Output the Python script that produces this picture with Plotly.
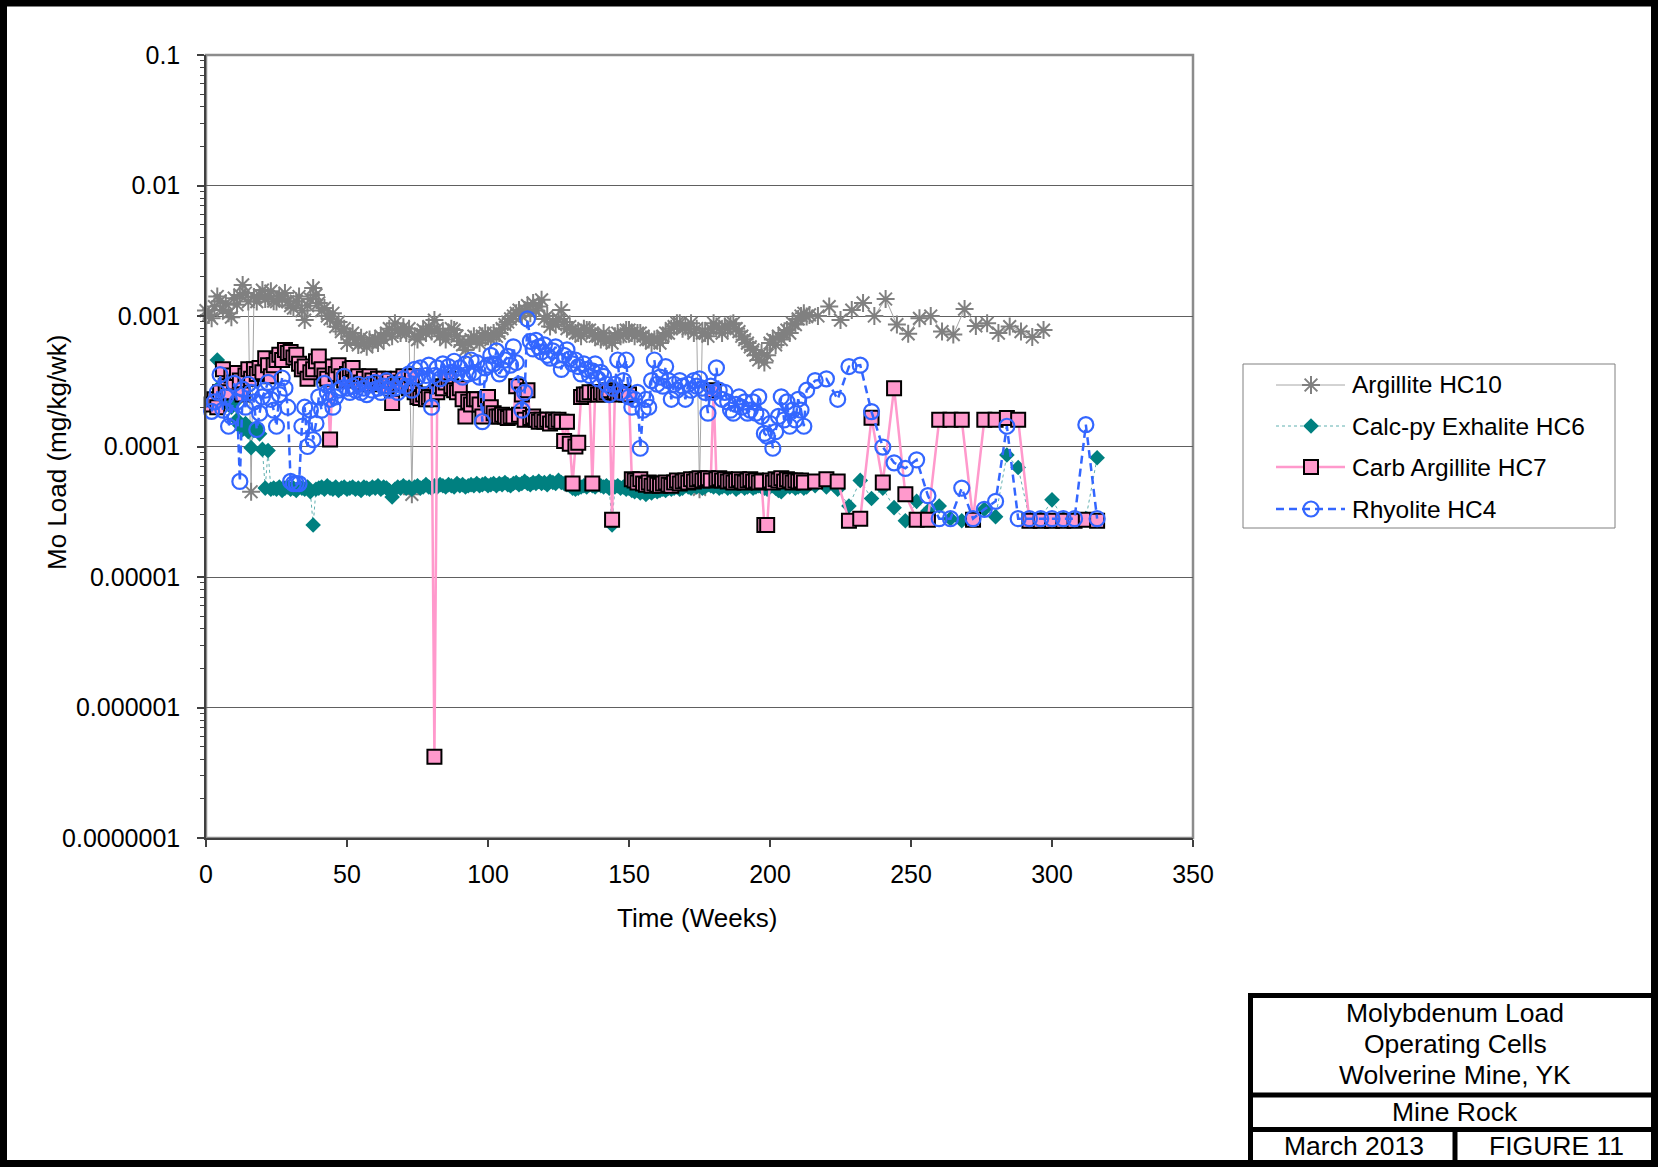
import plotly.graph_objects as go

# ---------------------------------------------------------------------------
# Molybdenum load, operating humidity cells (mg/kg/wk) by week
# ---------------------------------------------------------------------------

# Argillite HC10 - weekly to week 214, then every four weeks (values x 1e-3)
hc10_weeks = list(range(0, 215)) + [217, 221, 225, 229, 233, 237, 241, 245, 249, 253,
                                    257, 261, 265, 269, 273, 277, 281, 285, 289, 293, 297]
hc10_e3 = [
    1.10, 1.02, 0.96, 1.18, 1.41, 1.30, 1.11, 1.25, 1.05, 0.98,
    1.37, 1.22, 1.45, 1.73, 1.50, 1.29, 0.045, 1.40, 1.29, 1.45,
    1.58, 1.35, 1.41, 1.55, 1.30, 1.29, 1.42, 1.35, 1.50, 1.29,
    1.20, 1.15, 1.30, 1.41, 1.10, 0.93, 1.20, 1.35, 1.64, 1.45,
    1.26, 1.10, 1.15, 1.00, 0.95, 1.05, 0.83, 0.90, 0.76, 0.80,
    0.62, 0.70, 0.74, 0.66, 0.60, 0.68, 0.62, 0.58, 0.66, 0.62,
    0.66, 0.62, 0.70, 0.66, 0.74, 0.80, 0.70, 0.88, 0.78, 0.74,
    0.82, 0.74, 0.80, 0.043, 0.70, 0.66, 0.72, 0.78, 0.74, 0.83,
    0.76, 0.93, 0.80, 0.70, 0.74, 0.66, 0.72, 0.80, 0.78, 0.70,
    0.64, 0.60, 0.55, 0.62, 0.66, 0.70, 0.66, 0.62, 0.70, 0.74,
    0.70, 0.66, 0.74, 0.70, 0.74, 0.80, 0.86, 0.90, 0.95, 1.00,
    1.05, 1.11, 1.00, 1.11, 1.20, 1.05, 1.26, 1.10, 1.18, 1.33,
    0.95, 1.00, 0.83, 0.90, 0.86, 0.95, 1.11, 0.90, 0.80, 0.83,
    0.78, 0.74, 0.74, 0.70, 0.80, 0.78, 0.78, 0.74, 0.70, 0.70,
    0.66, 0.74, 0.66, 0.66, 0.62, 0.70, 0.74, 0.70, 0.72, 0.78,
    0.78, 0.74, 0.70, 0.74, 0.74, 0.70, 0.66, 0.66, 0.62, 0.66,
    0.66, 0.62, 0.70, 0.74, 0.74, 0.80, 0.83, 0.88, 0.88, 0.80,
    0.83, 0.80, 0.88, 0.74, 0.80, 0.047, 0.74, 0.74, 0.70, 0.80,
    0.88, 0.83, 0.80, 0.74, 0.83, 0.80, 0.86, 0.88, 0.80, 0.76,
    0.70, 0.66, 0.62, 0.58, 0.55, 0.50, 0.46, 0.52, 0.44, 0.50,
    0.62, 0.66, 0.60, 0.70, 0.66, 0.74, 0.78, 0.74, 0.88, 0.86,
    0.95, 1.00, 1.05, 0.99, 1.02,
    1.00, 1.18, 0.93, 1.11, 1.26, 1.00, 1.35, 0.86, 0.73, 0.96,
    1.00, 0.76, 0.72, 1.13, 0.84, 0.88, 0.74, 0.83, 0.76, 0.69, 0.78,
]

# Calc-py Exhalite HC6 - weekly weeks 4-213, then every four weeks (values x 1e-5)
hc6_weeks = list(range(4, 214)) + list(range(216, 317, 4))
hc6_e5 = [
    46, 29, 25, 22, 24, 20, 21.5, 16, 14.5, 13.5, 15, 13, 9.8, 13.3, 14, 12.5,
    9.5, 4.8, 9.3, 4.7,
    4.8, 4.7, 4.9, 4.6, 4.8, 4.9, 4.7, 4.8, 4.6, 4.9,
    4.8, 4.7, 4.9, 4.5, 2.5, 4.7, 4.8, 4.9, 4.7, 5.0,
    4.8, 4.7, 4.9, 4.6, 4.8, 4.9, 4.7, 4.8, 4.9, 4.7,
    4.8, 4.6, 4.9, 4.8, 4.7, 4.9, 4.8, 5.0, 4.7, 4.9,
    4.8, 4.6, 4.1, 4.7, 4.9, 4.8, 5.0, 4.8, 4.9, 4.7,
    4.9, 5.0, 4.8, 4.9, 5.1, 4.9, 4.8, 5.0, 4.9, 5.1,
    5.0, 4.9, 5.1, 5.0, 4.9, 5.2, 5.0, 5.1, 4.9, 5.0,
    5.1, 5.0, 5.2, 5.0, 5.1, 5.2, 5.0, 5.1, 5.2, 5.0,
    5.2, 5.1, 5.3, 5.1, 5.0, 5.2, 5.3, 5.1, 5.2, 5.4,
    5.2, 5.1, 5.3, 5.2, 5.4, 5.2, 5.3, 5.1, 5.4, 5.3,
    5.2, 5.5, 5.3, 5.2, 5.1, 5.0, 4.8, 4.7, 4.8, 4.9,
    5.0, 4.9, 5.1, 5.0, 4.9, 5.1, 5.0, 4.9, 5.0, 4.8,
    2.5, 4.9, 5.0, 4.8, 4.9, 4.7, 4.8, 4.6, 4.5, 4.6,
    4.4, 4.5, 4.3, 4.5, 4.4, 4.6, 4.5, 4.6, 4.7, 4.6,
    4.8, 4.7, 4.8, 4.9, 4.7, 4.8, 5.0, 4.9, 4.8, 5.0,
    4.9, 5.0, 4.8, 4.9, 5.1, 5.0, 4.9, 5.0, 4.8, 4.9,
    5.0, 4.8, 4.9, 5.0, 4.7, 4.9, 5.0, 4.8, 4.9, 5.0,
    4.8, 4.9, 5.0, 4.9, 4.8, 4.7, 4.9, 5.0, 4.8, 4.6,
    4.5, 4.8, 5.0, 4.9, 5.0, 4.8, 4.9, 5.0, 4.8, 4.9,
    5.0, 4.9, 4.7, 3.5, 5.5, 4.0, 4.8, 3.4, 2.7, 3.8,
    3.2, 3.5, 2.8, 2.7, 2.8, 3.3, 2.9, 8.6, 6.9, 2.8,
    2.8, 3.9, 2.8, 2.8, 2.8, 8.2,
]

# Carb Argillite HC7 - weekly weeks 2-212, then every four weeks (values x 1e-4)
hc7_weeks = list(range(2, 213)) + list(range(216, 317, 4))
hc7_e4 = [
    2.1, 2.3, 2.0, 2.6, 3.9, 2.9, 2.6, 3.5, 3.1, 3.65,
    3.2, 2.5, 3.5, 3.9, 3.3, 3.9, 3.6, 4.0, 3.7, 4.75,
    4.2, 3.45, 4.2, 4.6, 5.05, 4.6, 5.5, 5.2, 5.3, 4.8,
    5.05, 4.3, 3.9, 4.1, 3.3, 3.7, 3.9, 4.5, 4.9, 3.9,
    3.5, 3.3, 1.13, 4.1, 3.6, 4.2, 3.45, 3.2, 3.6, 3.9,
    4.0, 3.3, 3.45, 3.1, 3.3, 3.0, 3.45, 3.2, 3.0, 3.3,
    3.1, 3.3, 2.9, 3.2, 2.15, 3.0, 3.3, 3.1, 3.45, 3.0,
    2.8, 3.45, 2.6, 2.4, 2.35, 2.5, 2.3, 2.4, 2.3, 0.0042,
    2.6, 2.9, 2.8, 3.1, 3.3, 2.9, 2.7, 2.6, 2.8, 2.3,
    1.7, 2.2, 2.1, 2.3, 2.3, 2.1, 1.7, 2.3, 2.4, 2.0,
    1.8, 1.7, 1.7, 1.75, 1.7, 1.65, 1.7, 1.7, 2.9, 1.75,
    2.5, 1.6, 2.7, 1.65, 1.7, 1.6, 1.55, 1.6, 1.55, 1.6,
    1.5, 1.6, 1.55, 1.6, 1.55, 1.1, 1.55, 1.05, 0.52, 1.0,
    1.07, 2.4, 2.5, 2.5, 2.6, 0.52, 2.6, 2.5, 2.6, 2.5,
    2.6, 2.7, 0.275, 2.6, 2.5, 2.6, 2.6, 2.5, 2.5, 0.56,
    0.55, 0.53, 0.56, 0.52, 0.51, 0.53, 0.50, 0.52, 0.51, 0.50,
    0.52, 0.53, 0.51, 0.50, 0.53, 0.55, 0.52, 0.54, 0.55, 0.53,
    0.56, 0.54, 0.56, 0.57, 0.55, 0.56, 0.57, 0.55, 2.7, 0.56,
    0.57, 0.55, 0.56, 0.54, 0.55, 0.53, 0.55, 0.56, 0.54, 0.53,
    0.55, 0.56, 0.54, 0.55, 0.53, 0.54, 0.25, 0.25, 0.55, 0.53,
    0.56, 0.55, 0.57, 0.54, 0.56, 0.55, 0.53, 0.55, 0.54, 0.55, 0.53,
    0.54, 0.56, 0.54, 0.27, 0.28, 1.66, 0.53, 2.8, 0.43, 0.275,
    0.275, 1.6, 1.6, 1.6, 0.275, 1.6, 1.6, 1.65, 1.6, 0.27,
    0.27, 0.27, 0.27, 0.27, 0.275, 0.27,
]

# Rhyolite HC4 - weekly weeks 2-213, then every four weeks (values x 1e-4)
hc4_weeks = list(range(2, 214)) + list(range(216, 317, 4))
hc4_e4 = [
    1.86, 2.2, 2.6, 3.55, 1.9, 2.4, 1.43, 1.7, 3.05, 2.2,
    0.54, 2.75, 2.0, 3.0, 2.6, 2.2, 1.35, 1.8, 2.4, 2.7,
    3.1, 2.3, 1.9, 1.43, 2.5, 3.35, 2.8, 2.0, 0.54, 0.52,
    0.52, 0.52, 1.43, 2.0, 1.0, 1.9, 1.13, 1.5, 2.4, 1.9,
    3.05, 2.6, 2.3, 2.0, 2.4, 2.7, 2.8, 3.45, 2.8, 2.6,
    2.9, 2.7, 3.0, 2.6, 2.8, 2.5, 3.0, 2.7, 3.1, 2.8,
    2.6, 2.9, 3.2, 2.7, 3.0, 2.8, 2.6, 3.0, 3.3, 2.9,
    3.6, 2.7, 3.9, 3.4, 4.0, 3.2, 3.5, 4.2, 2.0, 3.5,
    4.0, 3.3, 4.3, 3.6, 4.1, 3.7, 4.5, 3.6, 4.0, 3.4,
    4.3, 3.6, 4.6, 3.7, 4.4, 3.4, 1.55, 4.0, 4.2, 5.0,
    4.3, 5.4, 3.6, 3.9, 4.6, 4.9, 4.2, 5.8, 4.4, 3.0,
    1.9, 2.6, 9.5, 6.4, 5.6, 6.5, 5.8, 5.3, 6.0, 5.0,
    4.75, 5.4, 5.8, 4.6, 3.9, 5.0, 5.5, 4.7, 4.3, 4.6,
    4.1, 3.6, 4.3, 3.9, 3.5, 3.8, 4.3, 3.3, 3.7, 3.45,
    3.0, 2.5, 2.8, 3.0, 4.6, 2.6, 3.2, 4.6, 2.4, 2.0,
    2.3, 2.6, 0.97, 1.9, 2.3, 2.0, 3.2, 4.6, 3.0, 3.4,
    2.9, 4.1, 3.2, 2.3, 3.0, 2.7, 3.2, 2.9, 2.3, 3.0,
    2.7, 3.2, 2.9, 3.3, 2.8, 2.6, 1.8, 2.9, 2.6, 4.0,
    2.7, 2.3, 2.6, 2.2, 1.9, 1.8, 2.1, 2.4, 2.0, 2.2,
    1.8, 1.9, 2.2, 1.8, 2.4, 1.7, 1.26, 1.2, 1.5, 0.97,
    1.3, 1.7, 2.4, 1.6, 2.2, 1.43, 1.9, 1.6, 2.3, 1.9,
    1.43, 2.7,
    3.2, 3.3, 2.3, 4.1, 4.2, 1.85, 0.99, 0.75, 0.68, 0.79,
    0.42, 0.28, 0.28, 0.48, 0.28, 0.33, 0.38, 1.43, 0.28, 0.28,
    0.28, 0.28, 0.28, 0.28, 1.47, 0.28,
]

series_names = ["Argillite HC10", "Calc-py Exhalite HC6", "Carb Argillite HC7", "Rhyolite HC4"]

x_ticks = [0, 50, 100, 150, 200, 250, 300, 350]
y_ticks = [1e-7, 1e-6, 1e-5, 1e-4, 1e-3, 1e-2, 1e-1]
y_tick_text = ["0.0000001", "0.000001", "0.00001", "0.0001", "0.001", "0.01", "0.1"]

title_lines = ["Molybdenum Load", "Operating Cells", "Wolverine Mine, YK"]
subtitle = "Mine Rock"
date_text = "March 2013"
figure_text = "FIGURE 11"

# ---------------------------------------------------------------------------
# page geometry (pixels) and helpers
# ---------------------------------------------------------------------------
W, H = 1658, 1170
PL, PR, PT, PB = 206, 1193, 55, 838          # plot frame
LEG = (1243, 364, 1615, 528)                  # legend box (x0, y0, x1, y1)
FONT = "Arial, 'Liberation Sans', sans-serif"


def fx(px):
    return px / W


def fy(py):
    return 1 - py / H


assert len(hc10_weeks) == len(hc10_e3)
assert len(hc6_weeks) == len(hc6_e5)
assert len(hc7_weeks) == len(hc7_e4)
assert len(hc4_weeks) == len(hc4_e4)

hc10 = [v * 1e-3 for v in hc10_e3]
hc6 = [v * 1e-5 for v in hc6_e5]
hc7 = [v * 1e-4 for v in hc7_e4]
hc4 = [v * 1e-4 for v in hc4_e4]

styles = [
    dict(line=dict(color="#a6a6a6", width=1),
         marker=dict(symbol="asterisk-open", size=15, color="#808080",
                     line=dict(color="#808080", width=2))),
    dict(line=dict(color="#5fb0b0", width=1, dash="dot"),
         marker=dict(symbol="diamond", size=12, color="#008080",
                     line=dict(width=0))),
    dict(line=dict(color="#ff99cc", width=2.5),
         marker=dict(symbol="square", size=14, color="#ff99cc",
                     line=dict(color="black", width=2))),
    dict(line=dict(color="#3366ff", width=2.5, dash="8px,5px"),
         marker=dict(symbol="circle-open", size=15, color="#3366ff",
                     line=dict(color="#3366ff", width=2.2))),
]

fig = go.Figure()

for name, xs, ys, st in zip(series_names,
                            [hc10_weeks, hc6_weeks, hc7_weeks, hc4_weeks],
                            [hc10, hc6, hc7, hc4], styles):
    fig.add_trace(go.Scatter(x=xs, y=ys, name=name, mode="lines+markers",
                             line=st["line"], marker=st["marker"],
                             cliponaxis=False, showlegend=False,
                             xaxis="x", yaxis="y"))

# legend drawn on its own small axis pair
leg_rows = [385, 426, 467, 509]
for name, row, st in zip(series_names, leg_rows, styles):
    fig.add_trace(go.Scatter(x=[1276, 1345], y=[row, row], mode="lines",
                             line=st["line"], showlegend=False,
                             hoverinfo="skip", xaxis="x2", yaxis="y2"))
    fig.add_trace(go.Scatter(x=[1311], y=[row], mode="markers",
                             marker=st["marker"], showlegend=False,
                             hoverinfo="skip", xaxis="x2", yaxis="y2"))

annotations = []
for name, row in zip(series_names, leg_rows):
    annotations.append(dict(text=name, x=fx(1350), y=fy(row), xref="paper", yref="paper",
                            xanchor="left", yanchor="middle", showarrow=False,
                            font=dict(family=FONT, size=24.5, color="black")))

# axis titles
annotations.append(dict(text="Time (Weeks)", x=fx(697), y=fy(918), xref="paper", yref="paper",
                        xanchor="center", yanchor="middle", showarrow=False,
                        font=dict(family=FONT, size=26, color="black")))
annotations.append(dict(text="Mo Load (mg/kg/wk)", x=fx(57), y=fy(452), xref="paper", yref="paper",
                        xanchor="center", yanchor="middle", showarrow=False, textangle=-90,
                        font=dict(family=FONT, size=26, color="black")))

# title block text
for txt, py in zip(title_lines, [1013, 1044, 1075]):
    annotations.append(dict(text=txt, x=fx(1455), y=fy(py), xref="paper", yref="paper",
                            xanchor="center", yanchor="middle", showarrow=False,
                            font=dict(family=FONT, size=26.5, color="black")))
annotations.append(dict(text=subtitle, x=fx(1455), y=fy(1112), xref="paper", yref="paper",
                        xanchor="center", yanchor="middle", showarrow=False,
                        font=dict(family=FONT, size=26.5, color="black")))
annotations.append(dict(text=date_text, x=fx(1354), y=fy(1146), xref="paper", yref="paper",
                        xanchor="center", yanchor="middle", showarrow=False,
                        font=dict(family=FONT, size=26.5, color="black")))
annotations.append(dict(text=figure_text, x=fx(1556), y=fy(1146), xref="paper", yref="paper",
                        xanchor="center", yanchor="middle", showarrow=False,
                        font=dict(family=FONT, size=26.5, color="black")))

shapes = [
    # plot frame (top / right edges)
    dict(type="rect", xref="paper", yref="paper", x0=fx(PL), x1=fx(PR), y0=fy(PB), y1=fy(PT),
         line=dict(color="#8c8c8c", width=2.5), layer="below"),
    # legend box
    dict(type="rect", xref="paper", yref="paper", x0=fx(LEG[0]), x1=fx(LEG[2]),
         y0=fy(LEG[3]), y1=fy(LEG[1]), line=dict(color="#808080", width=1)),
    # page border
    dict(type="rect", xref="paper", yref="paper", x0=fx(3.5), x1=fx(1654.5),
         y0=fy(1163.5), y1=fy(3), line=dict(color="black", width=7)),
    # title block
    dict(type="rect", xref="paper", yref="paper", x0=fx(1250.5), x1=fx(1655),
         y0=fy(1163.5), y1=fy(995.5), line=dict(color="black", width=5)),
    dict(type="line", xref="paper", yref="paper", x0=fx(1250.5), x1=fx(1655),
         y0=fy(1095), y1=fy(1095), line=dict(color="black", width=5)),
    dict(type="line", xref="paper", yref="paper", x0=fx(1250.5), x1=fx(1655),
         y0=fy(1129.5), y1=fy(1129.5), line=dict(color="black", width=5)),
    dict(type="line", xref="paper", yref="paper", x0=fx(1455), x1=fx(1455),
         y0=fy(1129.5), y1=fy(1163.5), line=dict(color="black", width=5)),
]

minor_vals = [m * 10.0 ** e for e in range(-7, -1) for m in range(2, 10)]

fig.update_layout(
    width=W, height=H,
    margin=dict(l=0, r=0, t=0, b=0),
    paper_bgcolor="white", plot_bgcolor="white",
    showlegend=False,
    font=dict(family=FONT, color="black"),
    xaxis=dict(domain=[fx(PL), fx(PR)], range=[0, 350], tickmode="array", tickvals=x_ticks,
               ticks="outside", ticklen=7, tickwidth=1.5, tickcolor="#404040",
               showline=True, linecolor="#404040", linewidth=1.5,
               showgrid=False, zeroline=False, automargin=False,
               tickfont=dict(family=FONT, size=25, color="black"), ticklabelstandoff=6,
               anchor="y"),
    yaxis=dict(domain=[fy(PB), fy(PT)], type="log", range=[-7, -1], tickmode="array",
               tickvals=y_ticks, ticktext=y_tick_text,
               ticks="outside", ticklen=7, tickwidth=1.5, tickcolor="#404040",
               showline=True, linecolor="#404040", linewidth=1.5,
               showgrid=True, gridcolor="#606060", gridwidth=1, zeroline=False,
               minor=dict(tickmode="array", tickvals=minor_vals, ticks="outside", ticklen=4,
                          tickwidth=1, tickcolor="#404040", showgrid=False),
               automargin=False,
               tickfont=dict(family=FONT, size=25, color="black"), ticklabelstandoff=12,
               anchor="x"),
    xaxis2=dict(domain=[fx(LEG[0]), fx(LEG[2])], range=[LEG[0], LEG[2]], visible=False,
                anchor="y2", fixedrange=True),
    yaxis2=dict(domain=[fy(LEG[3]), fy(LEG[1])], range=[LEG[3], LEG[1]], visible=False,
                anchor="x2", fixedrange=True),
    annotations=annotations,
    shapes=shapes,
)

fig.write_html("out.html")
